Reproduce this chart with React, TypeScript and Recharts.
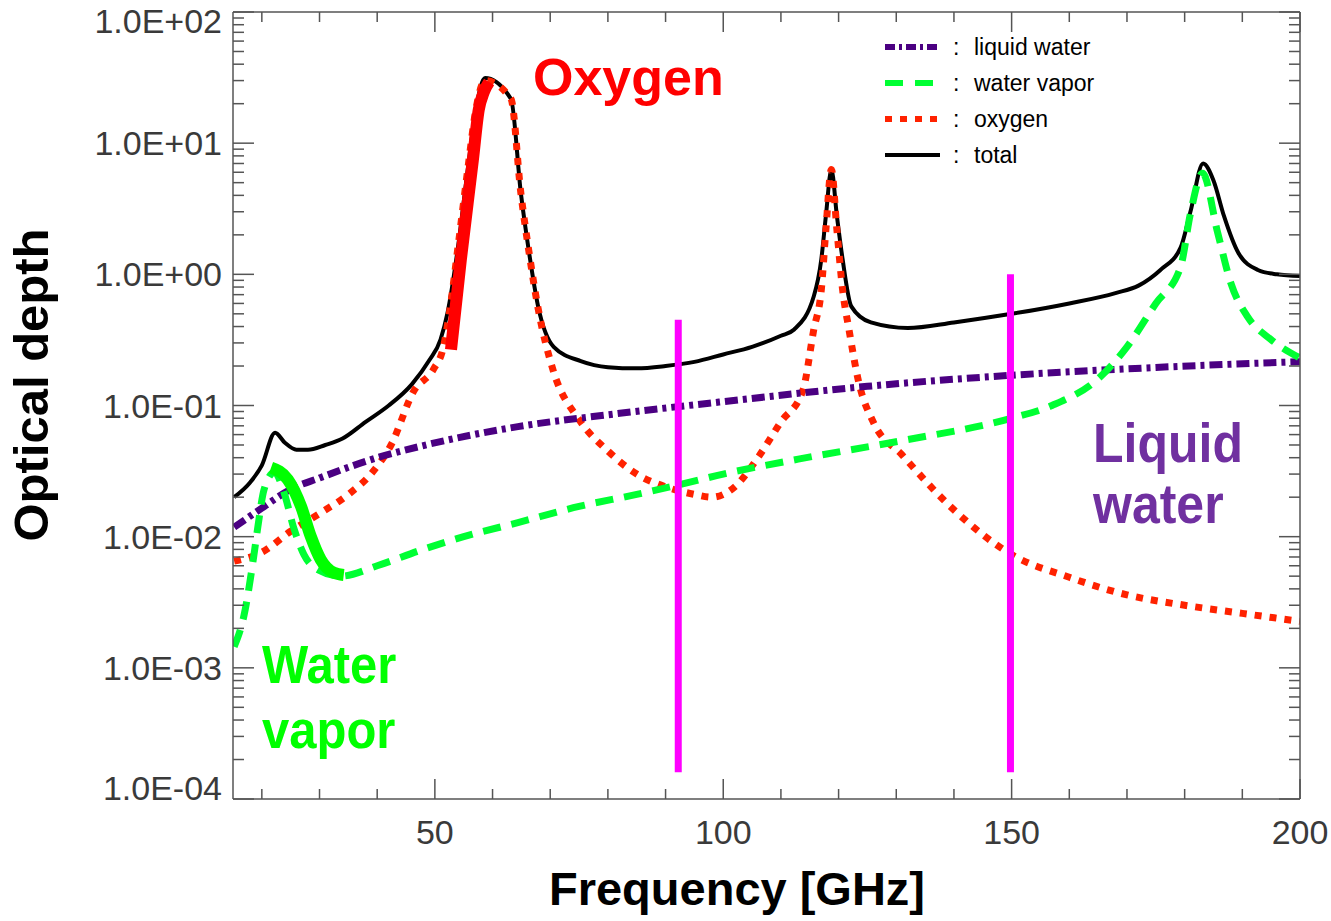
import { LineChart, Line, XAxis, YAxis, ReferenceLine } from 'recharts'

// values (frequency in GHz, optical depth)
const totalFreq = [15.2, 18, 20, 22.3, 24, 26, 28, 31, 34, 38, 42, 46, 49, 51, 52.2, 54, 55.7, 57.1, 58.7, 63.2, 64.9, 66.3, 67.9, 70.6, 75.3, 80, 85, 90, 95, 100, 105, 110, 112.3, 115.7, 117, 117.8, 118.75, 119.7, 120.7, 122.2, 125.6, 132, 140, 150, 160, 168, 172, 175.8, 179.3, 181, 183.2, 185, 186.8, 189.3, 192.7, 196, 200]
const totalTau = [0.02, 0.026, 0.035, 0.062, 0.052, 0.046, 0.046, 0.05, 0.056, 0.075, 0.1, 0.145, 0.22, 0.32, 0.51, 1.6, 6.3, 17.9, 31.4, 21.7, 4.2, 1.5, 0.57, 0.28, 0.218, 0.196, 0.192, 0.2, 0.215, 0.245, 0.28, 0.34, 0.38, 0.68, 1.3, 2.8, 6.3, 2.8, 1.3, 0.57, 0.43, 0.39, 0.43, 0.5, 0.6, 0.72, 0.82, 1.08, 1.6, 3.0, 7.0, 5.2, 2.8, 1.46, 1.08, 1.0, 0.97]

const oxygenFreq = [15.2, 20, 25, 30, 35, 38.9, 42.4, 46.4, 49.8, 51.4, 52.5, 54, 55.7, 57.1, 58.7, 63.2, 64.9, 66.3, 67.9, 70.5, 75, 80, 85, 90, 95, 98, 102, 106, 110, 113.8, 115.7, 117, 117.8, 118.75, 119.7, 120.7, 121.8, 123.5, 126, 131, 140, 150, 160, 170, 180, 190, 200]
const oxygenTau = [0.0065, 0.0076, 0.011, 0.015, 0.021, 0.03, 0.05, 0.13, 0.19, 0.27, 0.5, 1.6, 6.3, 17.9, 30, 21.7, 4.2, 1.5, 0.55, 0.186, 0.078, 0.045, 0.03, 0.024, 0.021, 0.02, 0.024, 0.04, 0.075, 0.13, 0.38, 0.76, 2.2, 6.3, 2.2, 0.76, 0.38, 0.15, 0.075, 0.042, 0.016, 0.0073, 0.0049, 0.0036, 0.003, 0.0026, 0.00226]

const vaporFreq = [15.2, 16.9, 18.6, 19.3, 20.4, 22.2, 23.8, 25.6, 27.3, 29.7, 33.7, 40, 47.6, 55, 64.4, 75, 85, 92.6, 100, 113, 131, 150, 157, 165, 170, 175, 179.3, 181, 183.1, 185.7, 188, 190.9, 194.9, 200]
const vaporTau = [0.00145, 0.0025, 0.0071, 0.0118, 0.023, 0.031, 0.022, 0.0114, 0.0073, 0.0056, 0.005, 0.006, 0.0079, 0.01, 0.0128, 0.017, 0.021, 0.025, 0.03, 0.039, 0.054, 0.08, 0.1, 0.16, 0.28, 0.6, 1.14, 2.9, 5.9, 2.1, 0.86, 0.475, 0.32, 0.23]

const liquidFreq = [15.2, 20, 25, 30, 40, 47.6, 64.4, 80, 100, 125, 150, 175, 200]
const liquidTau = [0.0118, 0.0165, 0.023, 0.028, 0.04, 0.049, 0.069, 0.085, 0.107, 0.14, 0.17, 0.195, 0.216]

// hand-drawn highlight strokes
const vaporMarkFreq = [21.6, 24.5, 26.8, 28.5, 30.2, 32.5, 34.2]
const vaporMarkTau = [0.0336, 0.0273, 0.017, 0.01, 0.0067, 0.0053, 0.0051]
const oxygenMarkFreq = [52.8, 54.5, 56.6, 57.6, 58.5, 59.4]
const oxygenMarkTau = [0.267, 1.29, 7.5, 17.9, 24.6, 29.3]

// magenta channel markers: [frequency, top, bottom]
const channels = [
  [92.2, 0.45, 0.00016],
  [149.8, 1.0, 0.00016],
]

const xTicks = [20, 30, 40, 50, 60, 70, 80, 90, 100, 110, 120, 130, 140, 150, 160, 170, 180, 190, 200]
const decades = [1e-4, 1e-3, 1e-2, 1e-1, 1, 10, 100]
const decadeLabels = ['1.0E-04', '1.0E-03', '1.0E-02', '1.0E-01', '1.0E+00', '1.0E+01', '1.0E+02']
const yTicks = decades.flatMap((d, i) =>
  i === decades.length - 1 ? [d] : [1, 2, 3, 4, 5, 6, 7, 8, 9].map((m) => m * d)
)

const rows = (f: number[], v: number[]) => f.map((x, i) => ({ f: x, v: v[i] }))

const FONT = '"Liberation Sans", Arial, Helvetica, sans-serif'
const AXIS = '#555'
const LABEL = '#3a3a3a'

const isDecade = (v: number) => Math.abs(Math.log10(v) - Math.round(Math.log10(v))) < 1e-6
const decadeIndex = (v: number) => Math.round(Math.log10(v)) + 4

// eslint-disable-next-line @typescript-eslint/no-explicit-any
const BottomTick = ({ x, y, payload }: any) => {
  const major = payload.value % 50 === 0
  return (
    <g>
      <line x1={x} y1={y} x2={x} y2={y - (major ? 20 : 10)} stroke={AXIS} strokeWidth={1.5} />
      {major && (
        <text x={x} y={y + 45} textAnchor="middle" fontSize={34} fill={LABEL} fontFamily={FONT}>
          {payload.value}
        </text>
      )}
    </g>
  )
}

// eslint-disable-next-line @typescript-eslint/no-explicit-any
const TopTick = ({ x, y, payload }: any) => (
  <line x1={x} y1={y} x2={x} y2={y + (payload.value % 50 === 0 ? 20 : 10)} stroke={AXIS} strokeWidth={1.5} />
)

// eslint-disable-next-line @typescript-eslint/no-explicit-any
const LeftTick = ({ x, y, payload }: any) => {
  const major = isDecade(payload.value)
  const idx = decadeIndex(payload.value)
  // end labels are nudged inside the frame, like the original
  const shift = idx === decadeLabels.length - 1 ? 9 : idx === 0 ? -11 : 0
  return (
    <g>
      <line x1={x} y1={y} x2={x + (major ? 21 : 11)} y2={y} stroke={AXIS} strokeWidth={1.5} />
      {major && (
        <text x={x - 11} y={y + 12 + shift} textAnchor="end" fontSize={34} fill={LABEL} fontFamily={FONT}>
          {decadeLabels[idx]}
        </text>
      )}
    </g>
  )
}

// eslint-disable-next-line @typescript-eslint/no-explicit-any
const RightTick = ({ x, y, payload }: any) => (
  <line x1={x} y1={y} x2={x - (isDecade(payload.value) ? 21 : 11)} y2={y} stroke={AXIS} strokeWidth={1.5} />
)

const legendItems = [
  { name: 'liquid water', color: '#4B0082', dash: '10 4 3 4', width: 6 },
  { name: 'water vapor', color: '#00FF33', dash: '18 12', width: 6 },
  { name: 'oxygen', color: '#FF2200', dash: '7 8', width: 6 },
  { name: 'total', color: '#000', dash: undefined, width: 4 },
]

export default function App() {
  return (
    <div style={{ position: 'absolute', left: 0, top: 0, width: 1331, height: 921, background: '#fff' }}>
      <LineChart width={1331} height={921} margin={{ top: 11, right: 30, bottom: 62, left: 83 }}>
        <XAxis
          dataKey="f" type="number" domain={[15, 200]} allowDataOverflow ticks={xTicks} interval={0}
          height={60} tickSize={0} tickMargin={0} tickLine={false}
          axisLine={{ stroke: AXIS, strokeWidth: 1.5 }} tick={<BottomTick />}
        />
        <XAxis
          xAxisId="top" orientation="top" dataKey="f" type="number" domain={[15, 200]} allowDataOverflow
          ticks={xTicks} interval={0} height={1} tickSize={0} tickMargin={0} tickLine={false}
          axisLine={{ stroke: AXIS, strokeWidth: 1.5 }} tick={<TopTick />}
        />
        <YAxis
          scale="log" type="number" domain={[1e-4, 100]} allowDataOverflow ticks={yTicks} interval={0}
          width={150} tickSize={0} tickMargin={0} tickLine={false}
          axisLine={{ stroke: AXIS, strokeWidth: 1.5 }} tick={<LeftTick />}
        />
        <YAxis
          yAxisId="right" orientation="right" scale="log" type="number" domain={[1e-4, 100]} allowDataOverflow
          ticks={yTicks} interval={0} width={1} tickSize={0} tickMargin={0} tickLine={false}
          axisLine={{ stroke: AXIS, strokeWidth: 1.5 }} tick={<RightTick />}
        />

        <Line data={rows(totalFreq, totalTau)} dataKey="v" type="monotone" stroke="#000" strokeWidth={4}
          dot={false} activeDot={false} isAnimationActive={false} />
        <Line data={rows(oxygenFreq, oxygenTau)} dataKey="v" type="monotone" stroke="#FF2200" strokeWidth={7}
          strokeDasharray="7 8" dot={false} activeDot={false} isAnimationActive={false} />
        <Line data={rows(liquidFreq, liquidTau)} dataKey="v" type="monotone" stroke="#4B0082" strokeWidth={7}
          strokeDasharray="13 5 4 5" dot={false} activeDot={false} isAnimationActive={false} />
        <Line data={rows(vaporFreq, vaporTau)} dataKey="v" type="monotone" stroke="#00FF33" strokeWidth={7}
          strokeDasharray="18 11" dot={false} activeDot={false} isAnimationActive={false} />
        <Line data={rows(vaporMarkFreq, vaporMarkTau)} dataKey="v" type="monotone" stroke="#00FF00" strokeWidth={12}
          dot={false} activeDot={false} isAnimationActive={false} />
        <Line data={rows(oxygenMarkFreq, oxygenMarkTau)} dataKey="v" type="monotone" stroke="#FF0000" strokeWidth={12}
          dot={false} activeDot={false} isAnimationActive={false} />

        {channels.map(([f, top, bottom]) => (
          <ReferenceLine key={f} segment={[{ x: f, y: top }, { x: f, y: bottom }]} stroke="#FF00FF" strokeWidth={7} />
        ))}
      </LineChart>

      <svg width={1331} height={921} style={{ position: 'absolute', left: 0, top: 0, pointerEvents: 'none' }} fontFamily={FONT}>
        <text x={533} y={95} fontSize={52} fontWeight="bold" fill="#FF0000">Oxygen</text>
        <g transform="translate(1093,462) scale(1,1.1)">
          <text x={0} y={0} fontSize={50} fontWeight="bold" fill="#7030A0">Liquid</text>
        </g>
        <g transform="translate(1093,523) scale(1,1.1)">
          <text x={0} y={0} fontSize={50} fontWeight="bold" fill="#7030A0">water</text>
        </g>
        <g transform="translate(262,683) scale(1,1.1)">
          <text x={0} y={0} fontSize={49} fontWeight="bold" fill="#00FF00">Water</text>
        </g>
        <g transform="translate(262,748) scale(1,1.1)">
          <text x={0} y={0} fontSize={49} fontWeight="bold" fill="#00FF00">vapor</text>
        </g>

        <text x={737} y={905} textAnchor="middle" fontSize={47} fontWeight="bold" fill="#000">Frequency [GHz]</text>
        <text transform="translate(48,385) rotate(-90)" textAnchor="middle" fontSize={49} fontWeight="bold" fill="#000">
          Optical depth
        </text>

        {legendItems.map((it, i) => {
          const y = 47 + i * 36
          return (
            <g key={it.name}>
              <line x1={885} y1={y} x2={940} y2={y} stroke={it.color} strokeWidth={it.width} strokeDasharray={it.dash} />
              <text x={953} y={y + 8} fontSize={23} fill="#000">:</text>
              <text x={974} y={y + 8} fontSize={23} fill="#000">{it.name}</text>
            </g>
          )
        })}
      </svg>
    </div>
  )
}
